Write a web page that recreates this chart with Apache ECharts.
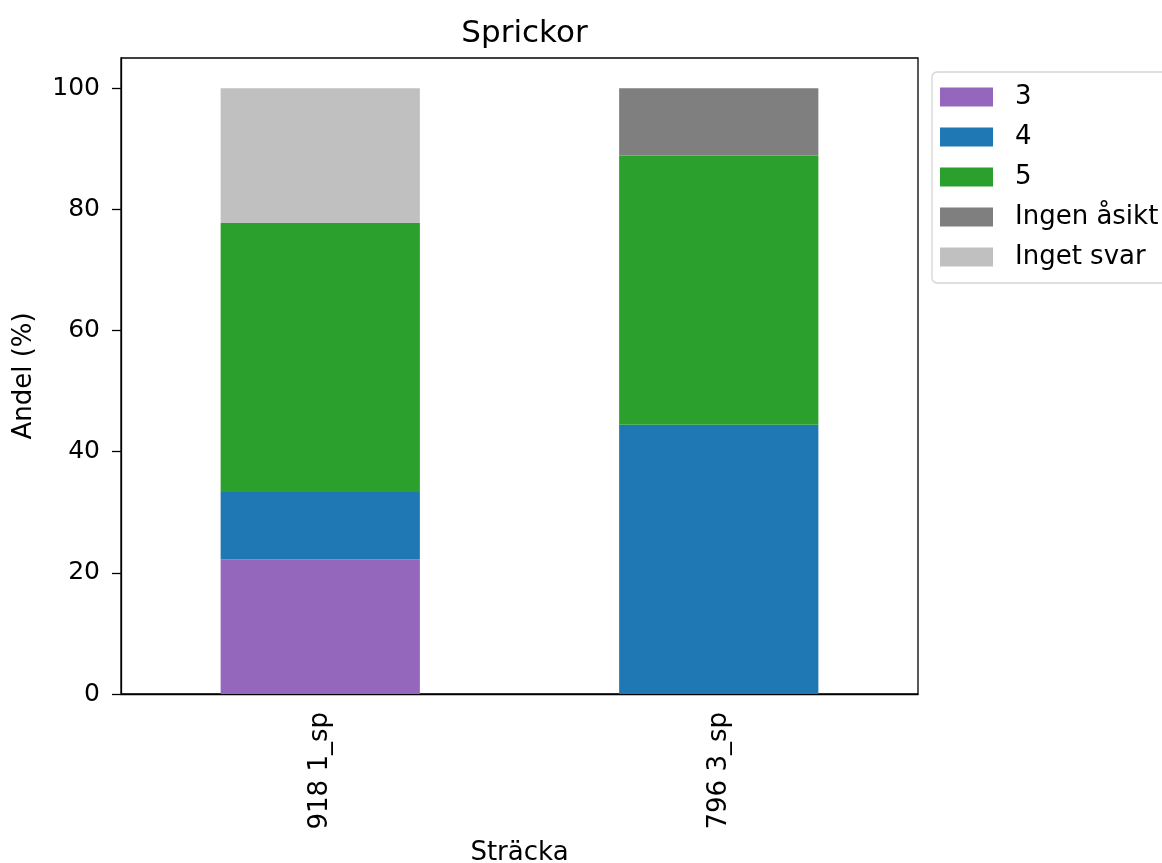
<!DOCTYPE html>
<html>
<head>
<meta charset="utf-8">
<script src="https://cdn.jsdelivr.net/npm/echarts@6/dist/echarts.min.js"></script>
<style>
  html, body { margin: 0; padding: 0; background: #fff; }
  #chart { width: 1162px; height: 863px; }
</style>
</head>
<body>
<div id="chart"></div>
<script>
// Share of answers per road section (%)
const categories = ['918 1_sp', '796 3_sp'];
const seriesNames = ['3', '4', '5', 'Ingen åsikt', 'Inget svar'];
const values3 = [22.22, 0];
const values4 = [11.11, 44.44];
const values5 = [44.45, 44.45];
const valuesIngenAsikt = [0, 11.11];
const valuesIngetSvar = [22.22, 0];
const yTicks = [0, 20, 40, 60, 80, 100];

const colors = ['#9467bd', '#1f77b4', '#2ca02c', '#7f7f7f', '#c0c0c0'];
const seriesValues = [values3, values4, values5, valuesIngenAsikt, valuesIngetSvar];
const FONT = 'DejaVu Sans';

const chart = echarts.init(document.getElementById('chart'), null, { renderer: 'canvas' });

chart.setOption({
  animation: false,
  backgroundColor: '#fff',
  textStyle: { fontFamily: FONT },
  title: {
    text: 'Sprickor',
    left: 519.5,
    top: 13,
    textAlign: 'center',
    textStyle: { fontFamily: FONT, fontSize: 31, fontWeight: 'normal', color: '#000' }
  },
  grid: {
    left: 121, top: 58, right: 244, bottom: 169,
    outerBoundsMode: 'none',
    show: true, borderColor: '#000', borderWidth: 1.3,
    containLabel: false
  },
  legend: {
    orient: 'vertical',
    left: 932,
    top: 72,
    padding: [12, 10, 13, 8],
    itemWidth: 53,
    itemHeight: 19,
    itemGap: 14,
    icon: 'rect',
    borderColor: '#d4d4d4',
    borderWidth: 1.3,
    borderRadius: 5,
    backgroundColor: '#fff',
    textStyle: { fontFamily: FONT, fontSize: 26, color: '#000', padding: [0, 0, 0, 17] },
    data: seriesNames
  },
  xAxis: {
    type: 'category',
    data: categories,
    name: 'Sträcka',
    nameLocation: 'middle',
    nameGap: 146,
    nameTextStyle: { fontFamily: FONT, fontSize: 26, color: '#000' },
    axisLine: { lineStyle: { color: '#000', width: 1.3 } },
    axisTick: { alignWithLabel: true, length: 9, lineStyle: { color: '#000', width: 1.3 } },
    axisLabel: { rotate: 90, margin: 18, fontFamily: FONT, fontSize: 26, color: '#000' },
    splitLine: { show: false }
  },
  yAxis: {
    type: 'value',
    min: 0,
    max: 105,
    interval: 20,
    name: 'Andel (%)',
    nameLocation: 'middle',
    nameGap: 84,
    nameRotate: 90,
    nameTextStyle: { fontFamily: FONT, fontSize: 26, color: '#000' },
    axisLine: { show: true, lineStyle: { color: '#000', width: 1.3 } },
    axisTick: { show: true, length: 9, customValues: yTicks, lineStyle: { color: '#000', width: 1.3 } },
    axisLabel: { margin: 21, customValues: yTicks, fontFamily: FONT, fontSize: 25, color: '#000' },
    splitLine: { show: false }
  },
  series: seriesNames.map((name, i) => ({
    name: name,
    type: 'bar',
    stack: 'total',
    barWidth: '50%',
    data: seriesValues[i],
    itemStyle: { color: colors[i] }
  }))
});
</script>
</body>
</html>
